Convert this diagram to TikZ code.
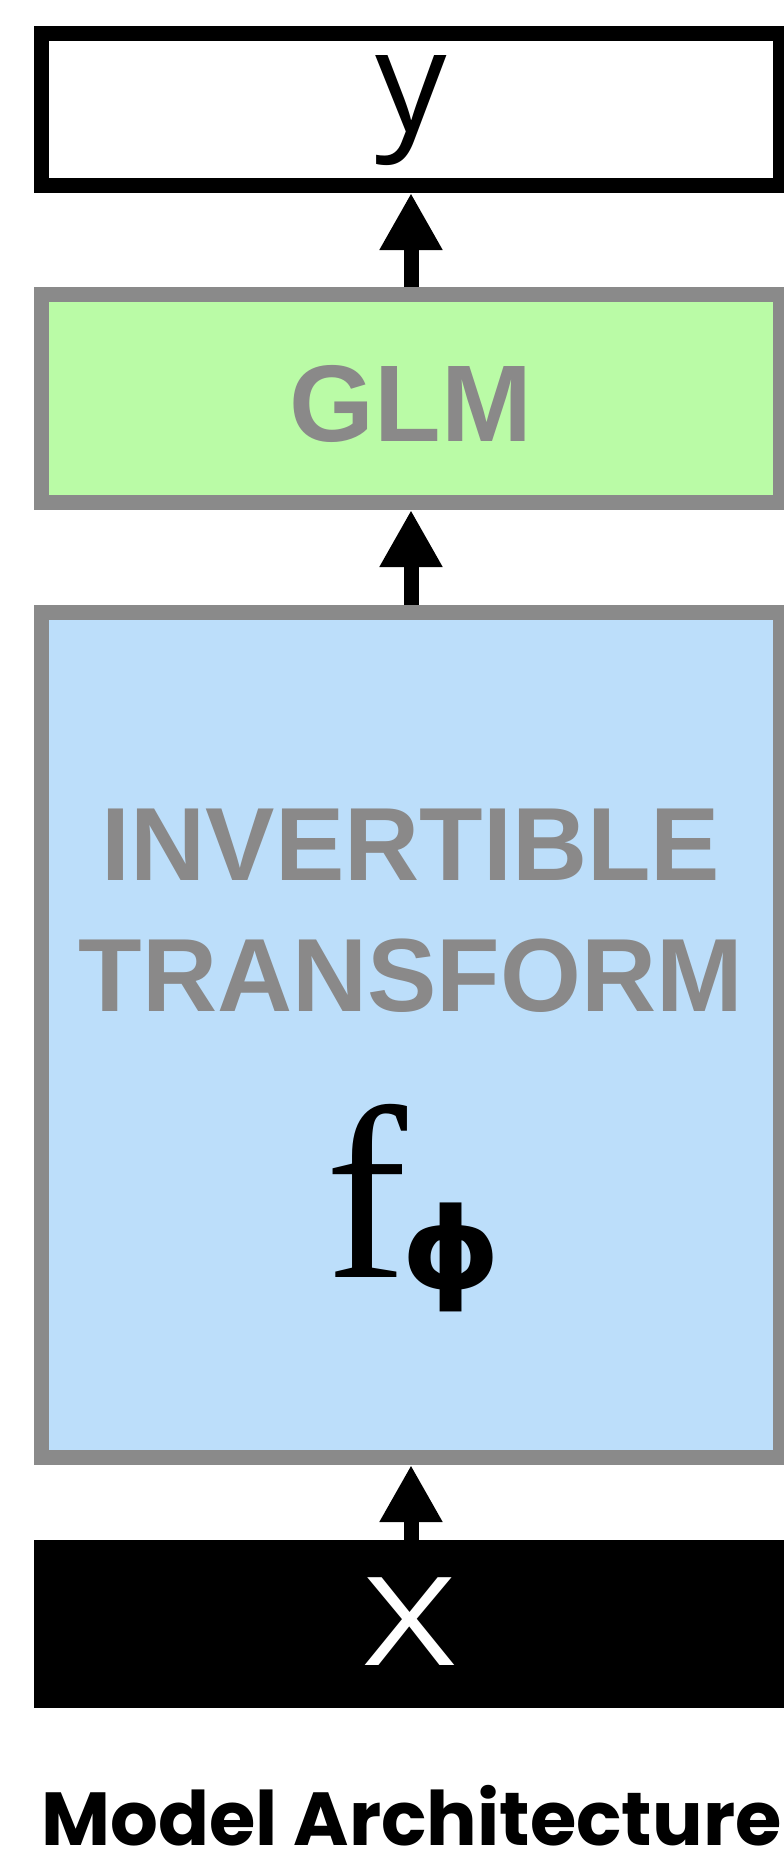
\documentclass[tikz,border=0pt]{standalone}
\usepackage{fontspec}
\usetikzlibrary{arrows.meta}
\setmainfont{Liberation Sans}
\newfontfamily\lblfont{Liberation Sans}
\newfontfamily\phifont{DejaVu Sans}
\newfontfamily\thinfont{Open Sans}
\newfontfamily\serfont{Liberation Serif}
\newfontfamily\capfont{Poppins}
\definecolor{bordergray}{RGB}{138,138,138}
\definecolor{textgray}{RGB}{138,137,137}
\definecolor{glmgreen}{RGB}{186,251,166}
\definecolor{flowblue}{RGB}{188,222,250}
\tikzset{
  layerbox/.style={draw=bordergray, line width=6pt, inner sep=0pt, minimum width=295.6pt},
  flowarrow/.style={line width=6pt, -{Triangle[width=23.6pt,length=22.8pt]}},
  graylabel/.style={anchor=base, inner sep=0pt, text=textgray, font=\lblfont\bfseries\fontsize{41.6pt}{42pt}\selectfont}
}
\begin{document}
\begin{tikzpicture}[x=0.4pt,y=-0.4pt]
\fill[white] (0,0) rectangle (783,1855);
\useasboundingbox (0,0) rectangle (783,1855);
% boxes
\node[layerbox, draw=black, fill=white, minimum height=60.8pt] (ybox) at (411,109.5) {};
\node[layerbox, fill=glmgreen, minimum height=83.2pt] (glm) at (411,398.5) {};
\node[layerbox, fill=flowblue, minimum height=338pt] (flow) at (411,1035) {};
\node[layerbox, draw=black, fill=black, minimum height=61.2pt] (xbox) at (411,1624) {};
% labels
\node[anchor=base, inner sep=0pt, font=\thinfont\fontsize{56.8pt}{57pt}\selectfont] (ylbl) at (411,131) {y};
\node[graylabel, font=\lblfont\bfseries\fontsize{43.6pt}{44pt}\selectfont] (glmlbl) at (411,441) {GLM};
\node[graylabel] (inv) at (411,880) {INVERTIBLE};
\node[graylabel] (trans) at (411,1011) {TRANSFORM};
\node[anchor=base west, inner sep=0pt] (fphi) at (325,1277) {\serfont\fontsize{98.4pt}{100pt}\selectfont f\kern-2.4pt\raisebox{-14pt}{\raisebox{\depth}{\resizebox*{40pt}{43.6pt}{\phifont\bfseries ϕ}}}};
\node[anchor=base, inner sep=0pt, text=white] (xlbl) at (410,1665) {\scalebox{1.28}[1]{\thinfont\fontsize{49.2pt}{50pt}\selectfont X}};
\node[anchor=base west, inner sep=0pt] (caption) at (41,1845) {\resizebox{296pt}{!}{\capfont\bfseries Model Architecture}};
% arrows
\draw[flowarrow] (glm.north) -- (ybox.south);
\draw[flowarrow] (flow.north) -- (glm.south);
\draw[flowarrow] (xbox.north) -- (flow.south);
\end{tikzpicture}
\end{document}
